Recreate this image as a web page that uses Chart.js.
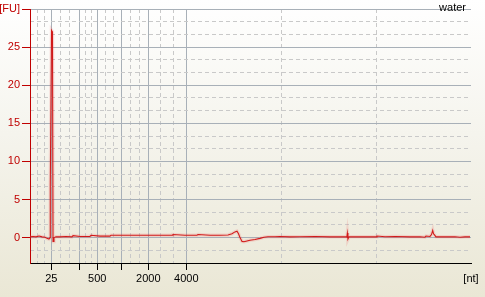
<!DOCTYPE html>
<html>
<head>
<meta charset="utf-8">
<script src="https://cdn.jsdelivr.net/npm/chart.js@4/dist/chart.umd.min.js"></script>
<style>
  html, body { margin: 0; padding: 0; }
  body { width: 485px; height: 297px; overflow: hidden;
         background: linear-gradient(to bottom, #ffffff 0%, #f5f4ed 45%, #eae7d5 100%); }
  canvas { display: block; }
</style>
</head>
<body>
<canvas id="c" width="485" height="297"></canvas>
<script>
// ---- data ----
const sampleName = 'water';
const xUnit = '[nt]';
const xMin = 19, xMax = 69;              // migration time window (s)
const yMin = -10 / 3, yMax = 30;         // FU range

const ladderNt = [25, 200, 500, 1000, 2000, 4000];
const ladderTime = [21.42, 24.59, 26.63, 29.35, 32.41, 36.72];
const xTickLabels = ['25', '', '500', '', '2000', '4000'];
const extraGridTime = [47.49, 58.27];

const yMajorTicks = [0, 5, 10, 15, 20, 25, 30];
const yTickLabels = ['0', '5', '10', '15', '20', '25', '[FU]'];

const traceTime = [19.00, 19.34, 19.68, 20.02, 20.36, 20.70, 20.93, 21.15, 21.27, 21.30,
  21.44, 21.55, 21.61, 21.72, 21.95, 22.40, 23.08, 23.76, 23.88, 24.67,
  25.80, 25.92, 26.94, 28.07, 28.18, 28.98, 30.34, 32.04, 33.74, 35.10,
  35.21, 36.57, 37.93, 38.05, 39.41, 40.54, 41.45, 41.90, 42.24, 42.47,
  42.64, 42.81, 43.04, 43.26, 43.60, 43.94, 44.51, 45.08, 45.53, 45.98,
  46.78, 47.35, 48.48, 49.61, 51.31, 53.01, 54.83, 54.92, 54.98, 55.05,
  55.17, 56.41, 57.55, 58.23, 58.34, 59.25, 60.38, 62.08, 63.22, 63.78,
  63.90, 64.35, 64.52, 64.66, 64.75, 64.86, 65.03, 66.05, 67.18, 67.75,
  68.32, 68.89];
const traceFU = [0.10, 0.15, 0.10, 0.20, 0.10, 0.05, -0.10, -0.20, 0.00, 7.0,
  27.2, 27.0, -0.50, 0.00, 0.10, 0.10, 0.15, 0.10, 0.25, 0.15,
  0.15, 0.30, 0.20, 0.20, 0.30, 0.30, 0.30, 0.30, 0.30, 0.30,
  0.40, 0.30, 0.30, 0.40, 0.30, 0.30, 0.35, 0.50, 0.75, 0.85,
  0.50, 0.00, -0.50, -0.55, -0.45, -0.35, -0.25, -0.10, 0.05, 0.12,
  0.12, 0.15, 0.10, 0.12, 0.15, 0.10, 0.10, 0.05, 0.60, -0.20,
  0.10, 0.10, 0.12, 0.10, 0.20, 0.12, 0.15, 0.10, 0.12, 0.05,
  0.20, 0.15, 0.40, 0.95, 0.50, 0.35, 0.10, 0.10, 0.12, 0.05,
  0.10, 0.10];

// ---- build chart ----
const points = traceTime.map((t, i) => ({ x: t, y: traceFU[i] }));

// minor (dashed) x grid: thirds between ladder positions, plus extra lines
const xEdges = [xMin].concat(ladderTime);
const xMinor = [];
for (let i = 0; i < xEdges.length - 1; i++) {
  const a = xEdges[i], b = xEdges[i + 1];
  xMinor.push(a + (b - a) / 3, a + 2 * (b - a) / 3);
}
extraGridTime.forEach(v => xMinor.push(v));

// minor (dashed) y grid: thirds of the 5 FU steps
const yMinor = [];
for (let k = -1; k <= 17; k++) { if (k % 3 !== 0) yMinor.push(k * 5 / 3); }

const FONT = { family: '"Liberation Sans", Arial, sans-serif', size: 11 };
const RED = '#c00000';
const GRID = '#a8b0b8';
const DASH = '#c9c9c9';

const textPlugin = {
  id: 'texts',
  afterDraw(chart) {
    const { ctx, chartArea: a } = chart;
    ctx.save();
    ctx.font = '11px "Liberation Sans", Arial, sans-serif';
    ctx.fillStyle = '#000';
    ctx.textAlign = 'right';
    ctx.textBaseline = 'alphabetic';
    ctx.fillText(sampleName, a.right - 5, a.top + 2);
    ctx.textAlign = 'center';
    ctx.textBaseline = 'middle';
    ctx.fillText(xUnit, a.right, a.bottom + 16);
    ctx.restore();
  }
};

new Chart(document.getElementById('c'), {
  type: 'line',
  data: {
    datasets: [
      { data: points, borderColor: 'rgba(235,80,80,0.16)', borderWidth: 3.5, pointRadius: 0, tension: 0, xAxisID: 'x', yAxisID: 'y' },
      { data: points, borderColor: '#cc1010', borderWidth: 1.1, pointRadius: 0, tension: 0, xAxisID: 'x', yAxisID: 'y' }
    ]
  },
  options: {
    responsive: false,
    animation: false,
    events: [],
    layout: { padding: { top: 9, right: 14, left: 0, bottom: 0 } },
    plugins: { legend: { display: false }, tooltip: { enabled: false } },
    scales: {
      x: {
        type: 'linear', position: 'bottom', min: xMin, max: xMax,
        afterBuildTicks: s => { s.ticks = ladderTime.map(v => ({ value: v })); },
        afterFit: s => { s.height = 34; },
        ticks: { callback: (v, i) => xTickLabels[i], color: '#000', font: FONT, maxRotation: 0, autoSkip: false, padding: 2 },
        grid: { color: GRID, lineWidth: 1, tickColor: '#000', tickLength: 7 },
        border: { color: '#000', width: 1 }
      },
      xm: {
        type: 'linear', position: 'bottom', min: xMin, max: xMax,
        afterBuildTicks: s => { s.ticks = xMinor.map(v => ({ value: v })); },
        ticks: { display: false },
        grid: { color: DASH, lineWidth: 1, drawTicks: false },
        border: { display: false, dash: [4, 3] }
      },
      y: {
        type: 'linear', position: 'left', min: yMin, max: yMax,
        afterBuildTicks: s => { s.ticks = yMajorTicks.map(v => ({ value: v })); },
        afterFit: s => { s.width = 30; },
        ticks: { callback: (v, i) => yTickLabels[i], color: RED, font: FONT, padding: 2 },
        grid: { color: GRID, lineWidth: 1, tickColor: RED, tickLength: 8 },
        border: { color: RED, width: 1 }
      },
      ym: {
        type: 'linear', position: 'left', min: yMin, max: yMax,
        afterBuildTicks: s => { s.ticks = yMinor.map(v => ({ value: v })); },
        ticks: { display: false },
        grid: { color: DASH, lineWidth: 1, drawTicks: false },
        border: { display: false, dash: [4, 3] }
      }
    }
  },
  plugins: [textPlugin]
});
</script>
</body>
</html>
